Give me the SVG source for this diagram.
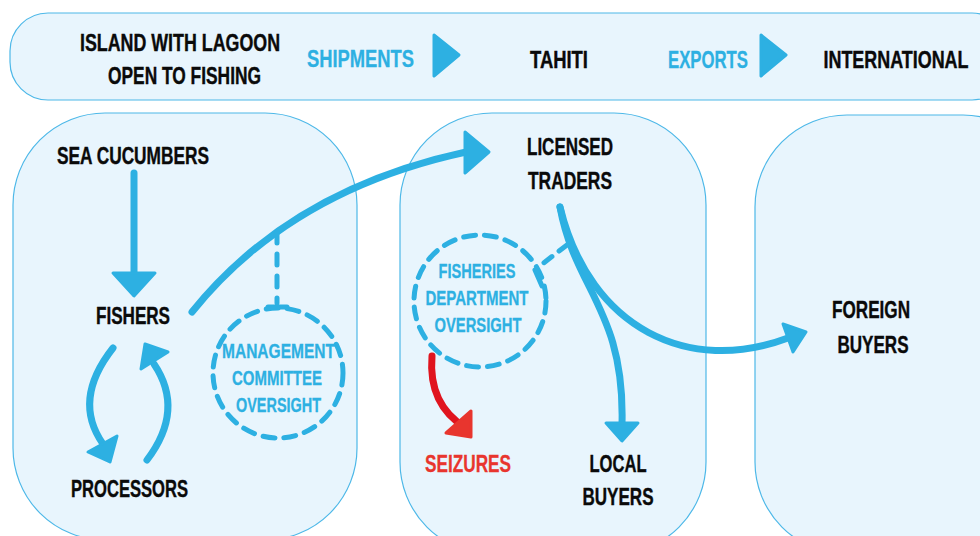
<svg xmlns="http://www.w3.org/2000/svg" width="980" height="536" viewBox="0 0 980 536">
<style>
.panel{fill:#E8F5FD;stroke:#4DB8E8;stroke-width:1.2}
.t{font-family:"Liberation Sans",Arial,sans-serif;font-weight:bold;font-size:24px;fill:#0a0a0a;stroke:#0a0a0a;stroke-width:0.4;text-anchor:middle}
.tb{font-family:"Liberation Sans",Arial,sans-serif;font-weight:bold;font-size:24px;fill:#2DB0E2;stroke:#2DB0E2;stroke-width:0.3;text-anchor:middle}
.ts{font-family:"Liberation Sans",Arial,sans-serif;font-weight:bold;font-size:21px;fill:#2DB0E2;stroke:#2DB0E2;stroke-width:0.3;text-anchor:middle}
.tr{font-family:"Liberation Sans",Arial,sans-serif;font-weight:bold;font-size:24px;fill:#E8352E;stroke:#E8352E;stroke-width:0.3;text-anchor:middle}
.ln{fill:none;stroke:#2DB0E2;stroke-width:7;stroke-linecap:round}
.dash{fill:none;stroke:#2DB0E2;stroke-width:5;stroke-linecap:round;stroke-dasharray:11 11}
.head{fill:#2DB0E2;stroke:#2DB0E2;stroke-width:3;stroke-linejoin:round}
.red{fill:none;stroke:#E0141E;stroke-width:7;stroke-linecap:round}
.headr{fill:#E8352E;stroke:#E8352E;stroke-width:3;stroke-linejoin:round}
</style>
<rect width="980" height="536" fill="#ffffff"/>

<g id="topbar">
<rect class="panel" x="10" y="13" width="1000" height="87" rx="38"/>
<text class="t" x="180" y="51" textLength="200" lengthAdjust="spacingAndGlyphs">ISLAND WITH LAGOON</text>
<text class="t" x="184.5" y="84" textLength="153" lengthAdjust="spacingAndGlyphs">OPEN TO FISHING</text>
<text class="tb" x="360.5" y="67" textLength="107" lengthAdjust="spacingAndGlyphs">SHIPMENTS</text>
<path class="head" d="M434,35 L459,55 L434,76 Z"/>
<text class="t" x="559" y="68" textLength="58" lengthAdjust="spacingAndGlyphs">TAHITI</text>
<text class="tb" x="708" y="68" textLength="80" lengthAdjust="spacingAndGlyphs">EXPORTS</text>
<path class="head" d="M761,35 L786,55 L761,76 Z"/>
<text class="t" x="896" y="68" textLength="145" lengthAdjust="spacingAndGlyphs">INTERNATIONAL</text>
</g>

<g id="panel-island">
<rect class="panel" x="13" y="113" width="344" height="427" rx="92"/>
</g>
<g id="panel-tahiti">
<rect class="panel" x="400" y="113" width="306" height="441" rx="92"/>
</g>
<g id="panel-international">
<rect class="panel" x="755" y="115" width="300" height="439" rx="92"/>
</g>

<g id="connectors">
<line class="ln" x1="134" y1="173" x2="134" y2="276"/>
<path class="head" d="M113,273 L155,273 L134,296 Z"/>
<path class="ln" d="M113,348 Q72,400 103,444"/>
<path class="head" d="M88,452 L117,436 L110,462 Z"/>
<path class="ln" d="M147,460 Q185,410 154,364"/>
<path class="head" d="M145,344 L168,352 L141,369 Z"/>
<path class="ln" d="M192,312 Q290,190 466,152"/>
<path class="head" d="M465,132 L489,152 L465,173 Z"/>
<path class="dash" d="M277,232 L277,303"/>
<line class="ln" x1="268" y1="307" x2="287" y2="307" style="stroke-width:5"/>
<path class="ln" d="M560,207 C575,290 625,310 622,424"/>
<path class="head" d="M606,423 L638,423 L622,441 Z"/>
<path class="ln" d="M560,207 C590,330 690,375 788,338"/>
<path class="head" d="M783,324 L806,332 L793,352 Z"/>
<path class="dash" d="M567,245 L537,268" style="stroke-dasharray:10 9"/>
<line class="ln" x1="535" y1="270" x2="542" y2="286" style="stroke-width:5"/>
<path class="red" d="M432,356 Q428,405 466,428"/>
<path class="headr" d="M446,433 L471,411 L471,437 Z"/>
</g>

<g id="sea-cucumbers"><text class="t" x="133" y="164" textLength="152" lengthAdjust="spacingAndGlyphs">SEA CUCUMBERS</text></g>
<g id="fishers"><text class="t" x="133" y="324" textLength="74" lengthAdjust="spacingAndGlyphs">FISHERS</text></g>
<g id="processors"><text class="t" x="129.5" y="497" textLength="117" lengthAdjust="spacingAndGlyphs">PROCESSORS</text></g>
<g id="management-committee">
<circle class="dash" cx="278" cy="373" r="65" style="stroke-dasharray:12 9"/>
<text class="ts" x="278.5" y="358" textLength="113" lengthAdjust="spacingAndGlyphs">MANAGEMENT</text>
<text class="ts" x="277" y="385" textLength="90" lengthAdjust="spacingAndGlyphs">COMMITTEE</text>
<text class="ts" x="278.5" y="412" textLength="85" lengthAdjust="spacingAndGlyphs">OVERSIGHT</text>
</g>
<g id="licensed-traders">
<text class="t" x="570" y="155" textLength="86" lengthAdjust="spacingAndGlyphs">LICENSED</text>
<text class="t" x="570" y="189" textLength="84" lengthAdjust="spacingAndGlyphs">TRADERS</text>
</g>
<g id="fisheries-department">
<circle class="dash" cx="480" cy="301" r="66" style="stroke-dasharray:12 9"/>
<text class="ts" x="477" y="278" textLength="77" lengthAdjust="spacingAndGlyphs">FISHERIES</text>
<text class="ts" x="477" y="305" textLength="103" lengthAdjust="spacingAndGlyphs">DEPARTMENT</text>
<text class="ts" x="478" y="332" textLength="87" lengthAdjust="spacingAndGlyphs">OVERSIGHT</text>
</g>
<g id="seizures"><text class="tr" x="468" y="472" textLength="86" lengthAdjust="spacingAndGlyphs">SEIZURES</text></g>
<g id="local-buyers">
<text class="t" x="618" y="472" textLength="57" lengthAdjust="spacingAndGlyphs">LOCAL</text>
<text class="t" x="618" y="505" textLength="71" lengthAdjust="spacingAndGlyphs">BUYERS</text>
</g>
<g id="foreign-buyers">
<text class="t" x="871" y="318" textLength="78" lengthAdjust="spacingAndGlyphs">FOREIGN</text>
<text class="t" x="873" y="353" textLength="71" lengthAdjust="spacingAndGlyphs">BUYERS</text>
</g>
</svg>
